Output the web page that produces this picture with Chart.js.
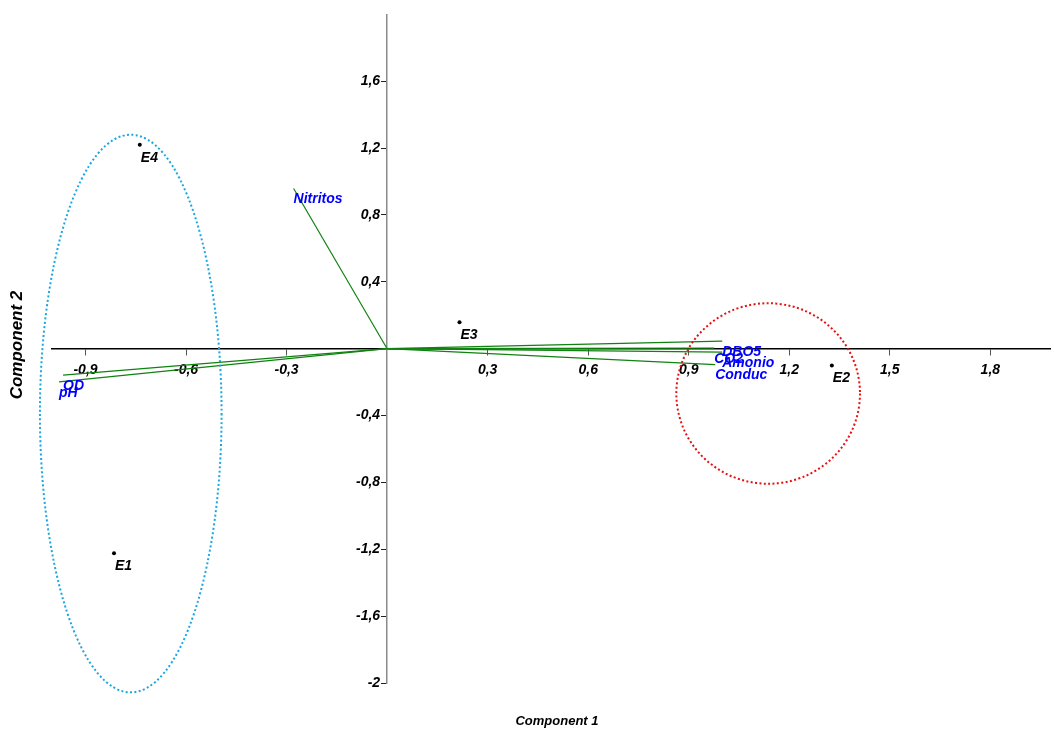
<!DOCTYPE html>
<html>
<head>
<meta charset="utf-8">
<script src="https://cdn.jsdelivr.net/npm/chart.js@4/dist/chart.umd.min.js"></script>
<style>
  html, body { margin: 0; padding: 0; background: #fff; }
  canvas { display: block; }
</style>
</head>
<body>
<canvas id="biplot" width="1054" height="733"></canvas>
<script>
// Sampling sites (scores on components 1 and 2)
const sites = ['E1', 'E2', 'E3', 'E4'];
const siteX = [-0.815, 1.327, 0.216, -0.738];
const siteY = [-1.224, -0.100, 0.158, 1.220];

// Water-quality variables (loadings)
const variables = ['DBO5', 'CO2', 'Amonio', 'Conduc', 'Nitritos', 'OD', 'pH'];
const loadX = [1.000, 0.976, 1.000, 0.979, -0.279, -0.967, -0.979];
const loadY = [0.045, 0.003, -0.021, -0.095, 0.958, -0.158, -0.199];

// Tick values on each axis
const xTicks = [-0.9, -0.6, -0.3, 0.3, 0.6, 0.9, 1.2, 1.5, 1.8];
const yTicks = [-2, -1.6, -1.2, -0.8, -0.4, 0.4, 0.8, 1.2, 1.6];

// Grouping ellipses: centre and semi-axes in data units
const groupCx = [-0.765, 1.137];
const groupCy = [-0.388, -0.268];
const groupRx = [0.271, 0.274];
const groupRy = [1.668, 0.540];
const groupColors = ['#1aa7e0', '#e81010'];

const FONT = '"Liberation Sans", Arial, Helvetica, sans-serif';
const fmt = v => String(v).replace('.', ',');

const overlay = {
  id: 'overlay',
  afterDatasetsDraw(chart) {
    const { ctx } = chart;
    const xs = chart.scales.x, ys = chart.scales.y;
    ctx.save();

    // dotted grouping ellipses
    groupCx.forEach((cx, i) => {
      const px = xs.getPixelForValue(cx);
      const py = ys.getPixelForValue(groupCy[i]);
      const rx = Math.abs(xs.getPixelForValue(cx + groupRx[i]) - px);
      const ry = Math.abs(ys.getPixelForValue(groupCy[i] + groupRy[i]) - py);
      ctx.beginPath();
      ctx.ellipse(px, py, rx, ry, 0, 0, Math.PI * 2);
      ctx.setLineDash([2, 2.4]);
      ctx.lineWidth = 2;
      ctx.strokeStyle = groupColors[i];
      ctx.stroke();
    });
    ctx.setLineDash([]);

    // variable names at the tip of each vector
    ctx.font = 'italic bold 14px ' + FONT;
    ctx.fillStyle = '#0000ff';
    ctx.textAlign = 'left';
    ctx.textBaseline = 'middle';
    variables.forEach((name, i) => {
      ctx.fillText(name, xs.getPixelForValue(loadX[i]), ys.getPixelForValue(loadY[i]) + 11);
    });

    // site names next to their points
    ctx.font = 'italic bold 14px ' + FONT;
    ctx.fillStyle = '#000';
    sites.forEach((name, i) => {
      ctx.fillText(name, xs.getPixelForValue(siteX[i]) + 1, ys.getPixelForValue(siteY[i]) + 13);
    });

    // axis titles
    ctx.textAlign = 'center';
    ctx.font = 'italic bold 13px ' + FONT;
    ctx.fillText('Component 1', 557, 721);
    ctx.translate(17, 345);
    ctx.rotate(-Math.PI / 2);
    ctx.font = 'italic bold 17px ' + FONT;
    ctx.fillText('Component 2', 0, 0);
    ctx.restore();
  }
};

const vectorSets = variables.map((name, i) => ({
  type: 'line',
  label: name,
  data: [{ x: 0, y: 0 }, { x: loadX[i], y: loadY[i] }],
  borderColor: '#0f820f',
  borderWidth: 1.2,
  pointRadius: 0,
  fill: false
}));

const tickFont = { family: FONT, size: 14, style: 'italic', weight: 'bold' };

new Chart(document.getElementById('biplot'), {
  type: 'scatter',
  data: {
    datasets: [
      ...vectorSets,
      {
        label: 'Sites',
        data: sites.map((s, i) => ({ x: siteX[i], y: siteY[i] })),
        backgroundColor: '#000',
        borderColor: '#000',
        pointRadius: 2,
        pointBorderWidth: 0
      }
    ]
  },
  options: {
    responsive: false,
    animation: false,
    layout: { padding: { left: 52, right: 0, top: 12, bottom: 50 } },
    plugins: { legend: { display: false }, tooltip: { enabled: false } },
    scales: {
      x: {
        type: 'linear',
        min: -1.0,
        max: 1.978,
        position: { y: 0 },
        afterBuildTicks: s => { s.ticks = xTicks.map(v => ({ value: v })); },
        ticks: { callback: v => fmt(v), font: tickFont, color: '#000', padding: 7, maxRotation: 0, autoSkip: false },
        grid: { drawOnChartArea: false, drawTicks: true, tickLength: 6, color: '#555' },
        border: { color: '#000', width: 1.5 }
      },
      y: {
        type: 'linear',
        min: -2,
        max: 2,
        position: { x: 0 },
        afterBuildTicks: s => { s.ticks = yTicks.map(v => ({ value: v })); },
        // trailing en space keeps the right-aligned label clear of its tick mark
        ticks: { callback: v => fmt(v) + '\u2002', font: tickFont, color: '#000', padding: 6, autoSkip: false },
        grid: { drawOnChartArea: false, drawTicks: true, tickLength: 5, color: '#222' },
        border: { color: '#8a8a8a', width: 1.5 }
      }
    }
  },
  plugins: [overlay]
});
</script>
</body>
</html>
